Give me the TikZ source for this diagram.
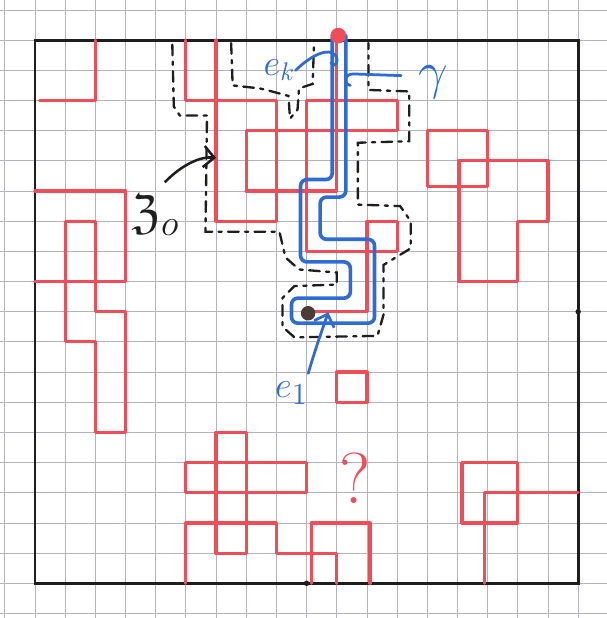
\documentclass[tikz,border=0pt]{standalone}
\usepackage{amssymb}
\usepackage{tikz}
\usetikzlibrary{arrows.meta}
\usepackage{xcolor}
\definecolor{PenRed}{HTML}{EF4D58}
\definecolor{PenBlue}{HTML}{2E6BD3}
\definecolor{PenBlack}{HTML}{1E1E1E}
\definecolor{GridGray}{HTML}{B4B4BC}
\definecolor{DotBrown}{HTML}{4D3B37}
\tikzset{
    % paper and frame
    gridline/.style={
        draw=GridGray,
        line width=0.4pt
    },
    frameline/.style={
        draw=PenBlack,
        line width=1.3pt
    },
    % red clusters
    cluster/.style={
        draw=PenRed,
        line width=1.5pt,
        line join=round,
        line cap=round
    },
    % dashed hull around the cluster
    hull/.style={
        draw=PenBlack,
        line width=1.1pt,
        dash pattern=on 5pt off 3pt on 1.5pt off 3pt,
        line cap=round
    },
    hullarrow/.style={
        -{Straight Barb[length=5pt]},
        draw=PenBlack,
        line width=1.2pt
    },
    % blue tube along the path
    tube/.style={
        draw=PenBlue,
        line width=1.7pt,
        rounded corners=3pt,
        line cap=round
    },
    pointer/.style={
        draw=PenBlue,
        line width=1.3pt,
        line cap=round
    },
    tubelabel/.style={
        text=PenBlue,
        inner sep=0pt
    },
    startdot/.style={
        circle,
        fill=PenRed,
        minimum size=0.26cm,
        inner sep=0pt
    },
    enddot/.style={
        circle,
        fill=DotBrown,
        minimum size=0.24cm,
        inner sep=0pt
    },
    borderdot/.style={
        circle,
        fill=PenBlack,
        minimum size=0.09cm,
        inner sep=0pt
    }
}

\begin{document}
\begin{tikzpicture}[x=0.5cm, y=-0.5cm]
    \useasboundingbox (-1.16,-1.33) rectangle (18.94,19.15);

    % grid paper
    \foreach \k in {-1,...,18} {
        \draw[gridline] (\k,-1.33) -- (\k,19.15);
    }
    \foreach \k in {-1,...,19} {
        \draw[gridline] (-1.16,\k) -- (18.94,\k);
    }

    % frame
    \draw[frameline] (0,0) rectangle (18,18);
    \node[borderdot] (bright) at (18,9) {};
    \node[borderdot] (bbottom) at (9,18) {};

    % red clusters, top
    \draw[cluster] (0.15,2) -- (2,2) -- (2,0);
    \draw[cluster] (5,0) -- (5,2) -- (6,2) -- (6,0);
    \draw[cluster] (6,2) rectangle (8,6);
    \draw[cluster] (7,5) -- (7,3) -- (12,3) -- (12,2) -- (9,2) -- (9,7) -- (12,7) -- (12,6) -- (11,6) -- (11,9) -- (9,9);
    \draw[cluster] (7,5) -- (10,5) -- (10,0);
    \draw[cluster] (13,3) rectangle (15,4.85);
    \draw[cluster] (14.05,4) -- (17,4) -- (17,6) -- (16,6) -- (16,8) -- (14.05,8) -- cycle;

    % red clusters, left
    \draw[cluster] (0,5) -- (3,5) -- (3,8) -- (0,8);
    \draw[cluster] (1,6) -- (2,6) -- (2,9) -- (3,9) -- (3,13) -- (2,13) -- (2,10) -- (1,10) -- cycle;

    % red clusters, bottom
    \draw[cluster] (10,11) rectangle (11,12);
    \draw[cluster] (6,13) rectangle (7,17);
    \draw[cluster] (5,14) rectangle (9,15);
    \draw[cluster] (5,18) -- (5,16) -- (8,16) -- (8,17) -- (10,17) -- (10,18);
    \draw[cluster] (9.15,18) -- (9.15,16) -- (11.1,16) -- (11.1,18);
    \draw[cluster] (14.15,14) rectangle (16,16);
    \draw[cluster] (18,15) -- (14.9,15) -- (14.9,18);
    \node[text=PenRed, inner sep=0pt, font=\fontsize{34}{34}\selectfont] (qmark) at (10.6,14.5) {?};

    % dashed hull
    \draw[hull] (4.55,0.15) -- (4.6,2.2) -- (4.8,2.5) -- (5.7,2.5) -- (5.65,6.35) -- (8.1,6.35)
        -- (8.3,7.2) -- (8.75,7.6) -- (10,7.7) -- (10,8.1) -- (8.6,8.15) -- (8.2,8.55) -- (8.2,9.5)
        -- (8.6,9.85) -- (11.35,9.8) -- (11.55,9.1) -- (11.55,7.45) -- (12.45,6.9) -- (12.45,6.0)
        -- (12.1,5.5) -- (10.7,5.45) -- (10.7,3.4) -- (12.4,3.35) -- (12.4,1.7) -- (11.05,1.65) -- (11.05,0.1);
    \draw[hull] (6.5,0.1) -- (6.55,1.5) -- (7.45,1.6) -- (7.85,1.7) -- (8.4,1.85) -- (8.45,2.6)
        -- (8.7,2.3) -- (8.75,1.6) -- (9.2,1.45) -- (9.25,0.05);

    % blue tube
    \draw[tube] (9.85,-0.1) -- (9.85,4.62) -- (8.8,4.62) -- (8.8,7.35) -- (10.45,7.35) -- (10.45,8.55)
        -- (8.5,8.55) -- (8.5,9.38) -- (11.25,9.38) -- (11.25,6.6) -- (9.45,6.6) -- (9.45,5.2)
        -- (10.3,5.2) -- (10.3,-0.15);

    % end points of the path
    \node[enddot] (vend) at (9.05,9.05) {};
    \node[startdot] (vtop) at (10.05,-0.15) {};

    % labels
    \node[tubelabel, font=\fontsize{17}{17}\selectfont] (ek) at (8.1,1.0) {$e_k$};
    \coordinate (ektip) at (9.8,0.75);
    \draw[pointer] (ek.east) .. controls (9.2,0.45) and (9.75,0.25) .. (9.95,0.5)
        .. controls (10.1,0.7) and (9.95,0.95) .. (ektip);

    \node[tubelabel, font=\fontsize{34}{34}\selectfont] (gamma) at (13.2,1.38) {$\gamma$};
    \coordinate (gtip) at (10.45,1.5);
    \draw[pointer, shorten <=8pt] (gamma.160) -- (10.55,1.12) .. controls (10.25,1.12) and (10.2,1.45) .. (gtip);

    \node[tubelabel, outer ysep=0.14cm, font=\fontsize{19}{19}\selectfont] (eone) at (8.5,11.7) {$e_1$};
    \coordinate (eonetip) at (9.72,9.02);
    \draw[pointer, -{Straight Barb[length=5pt]}] (eone.north east) .. controls (9.3,10.2) and (9.55,9.5) .. (eonetip);

    \node[inner sep=0pt, outer ysep=0.2cm, text=PenBlack, font=\fontsize{23}{23}\selectfont] (zlab) at (4.0,5.8) {$\mathfrak{Z}_o$};
    \coordinate (ztip) at (6.0,3.9);
    \draw[hullarrow] ([xshift=0.15cm]zlab.north) .. controls (4.9,4.1) and (5.5,3.85) .. (ztip);
\end{tikzpicture}
\end{document}
